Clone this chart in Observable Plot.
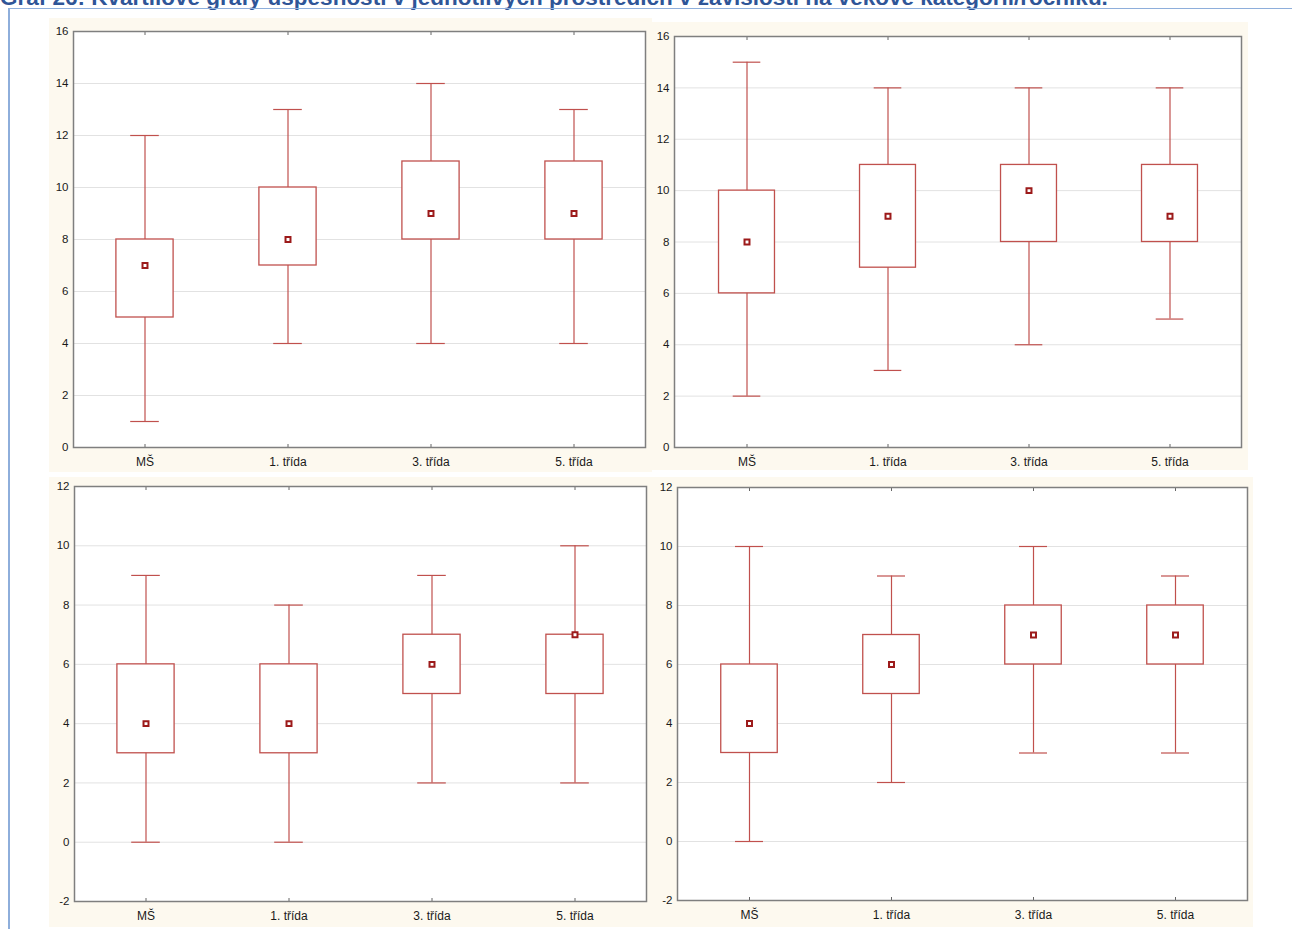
<!DOCTYPE html>
<html>
<head>
<meta charset="utf-8">
<script src="https://cdn.jsdelivr.net/npm/d3@7"></script>
<script src="https://cdn.jsdelivr.net/npm/@observablehq/plot@0.6"></script>
<style>
  html, body { margin: 0; padding: 0; background: #ffffff; width: 1292px; height: 929px; overflow: hidden; }
  #title { position: absolute; left: 0; top: -13px; white-space: nowrap; font: bold 22.5px "Liberation Sans", Arial, sans-serif; line-height: 22px; color: #2f5597; }
  #hline { position: absolute; left: 8px; top: 8px; width: 1284px; height: 1px; background: #8eaedb; }
  #vline { position: absolute; left: 8px; top: 8px; width: 1.5px; height: 921px; background: #8eaedb; }
  .panel { position: absolute; }
  .panel svg { display: block; }
</style>
</head>
<body>
<div id="title">Graf 26: Kvartilové grafy úspěšnosti v jednotlivých prostředích v závislosti na věkové kategorii/ročníku.</div>
<div id="hline"></div>
<div id="vline"></div>
<div id="tl" class="panel" style="left:49px;top:18px"></div>
<div id="tr" class="panel" style="left:652px;top:22px"></div>
<div id="bl" class="panel" style="left:49px;top:477px"></div>
<div id="br" class="panel" style="left:655px;top:477px"></div>
<script>
// ---- data ----
const categories = ["MŠ", "1. třída", "3. třída", "5. třída"];

const ticksTop = [0, 2, 4, 6, 8, 10, 12, 14, 16];
const ticksBottom = [-2, 0, 2, 4, 6, 8, 10, 12];

// top-left panel
const tlMin = [1, 4, 4, 4];
const tlQ1 = [5, 7, 8, 8];
const tlMed = [7, 8, 9, 9];
const tlQ3 = [8, 10, 11, 11];
const tlMax = [12, 13, 14, 13];

// top-right panel
const trMin = [2, 3, 4, 5];
const trQ1 = [6, 7, 8, 8];
const trMed = [8, 9, 10, 9];
const trQ3 = [10, 11, 11, 11];
const trMax = [15, 14, 14, 14];

// bottom-left panel
const blMin = [0, 0, 2, 2];
const blQ1 = [3, 3, 5, 5];
const blMed = [4, 4, 6, 7];
const blQ3 = [6, 6, 7, 7];
const blMax = [9, 8, 9, 10];

// bottom-right panel
const brMin = [0, 2, 3, 3];
const brQ1 = [3, 5, 6, 6];
const brMed = [4, 6, 7, 7];
const brQ3 = [6, 7, 8, 8];
const brMax = [10, 9, 10, 9];

// ---- drawing ----
const RED = "#c0504d";
const DARKRED = "#9c1a1a";
const CREAM = "#fdf9ef";

function panel(id, cfg) {
  const {width, height, ml, mr, mt, mb, ticks, mins, q1s, meds, q3s, maxs} = cfg;
  const data = categories.map((c, i) => ({cat: c, min: mins[i], q1: q1s[i], med: meds[i], q3: q3s[i], max: maxs[i]}));
  const bw = (width - ml - mr) / categories.length;
  const chart = Plot.plot({
    width, height,
    marginLeft: ml, marginRight: mr, marginTop: mt, marginBottom: mb,
    style: {background: CREAM, fontFamily: "Arial, 'Liberation Sans', sans-serif", fontSize: "11px", color: "#1a1a1a", overflow: "visible"},
    x: {type: "band", domain: categories, padding: 0, label: null},
    y: {domain: [ticks[0], ticks[ticks.length - 1]], label: null},
    marks: [
      Plot.frame({fill: "white", stroke: "none"}),
      Plot.gridY(ticks, {stroke: "#e2e2e2", strokeOpacity: 1, strokeWidth: 1}),
      Plot.axisY(ticks, {tickSize: 0, tickPadding: 5, fill: "#1a1a1a", fontSize: 11.5, tickFormat: d => String(d)}),
      Plot.axisX({anchor: "bottom", tickSize: 0, tickPadding: 10, fill: "#1a1a1a", fontSize: 12}),
      Plot.axisX({anchor: "bottom", tickSize: -3, text: null, stroke: "#666"}),
      Plot.axisX({anchor: "top", tickSize: -3, text: null, stroke: "#666"}),
      Plot.ruleX(data, {x: "cat", y1: "min", y2: "max", stroke: RED, strokeWidth: 1.2}),
      Plot.tickY(data, {x: "cat", y: "min", stroke: RED, strokeWidth: 1.2, insetLeft: bw * 0.4, insetRight: bw * 0.4}),
      Plot.tickY(data, {x: "cat", y: "max", stroke: RED, strokeWidth: 1.2, insetLeft: bw * 0.4, insetRight: bw * 0.4}),
      Plot.rectY(data, {x: "cat", y1: "q1", y2: "q3", fill: "white", stroke: RED, strokeWidth: 1.3, insetLeft: bw * 0.3, insetRight: bw * 0.3}),
      Plot.dot(data, {x: "cat", y: "med", symbol: "square", r: 2.8, fill: "white", stroke: DARKRED, strokeWidth: 2}),
      Plot.frame({stroke: "#7f7f7f", strokeWidth: 1.5})
    ]
  });
  document.getElementById(id).appendChild(chart);
}

panel("tl", {width: 603, height: 454, ml: 24, mr: 7, mt: 13, mb: 25, ticks: ticksTop,
  mins: tlMin, q1s: tlQ1, meds: tlMed, q3s: tlQ3, maxs: tlMax});
panel("tr", {width: 596, height: 448, ml: 22, mr: 7, mt: 14, mb: 23, ticks: ticksTop,
  mins: trMin, q1s: trQ1, meds: trMed, q3s: trQ3, maxs: trMax});
panel("bl", {width: 606, height: 450, ml: 25, mr: 9, mt: 9, mb: 26, ticks: ticksBottom,
  mins: blMin, q1s: blQ1, meds: blMed, q3s: blQ3, maxs: blMax});
panel("br", {width: 598, height: 450, ml: 22, mr: 6, mt: 10, mb: 27, ticks: ticksBottom,
  mins: brMin, q1s: brQ1, meds: brMed, q3s: brQ3, maxs: brMax});
</script>
</body>
</html>
